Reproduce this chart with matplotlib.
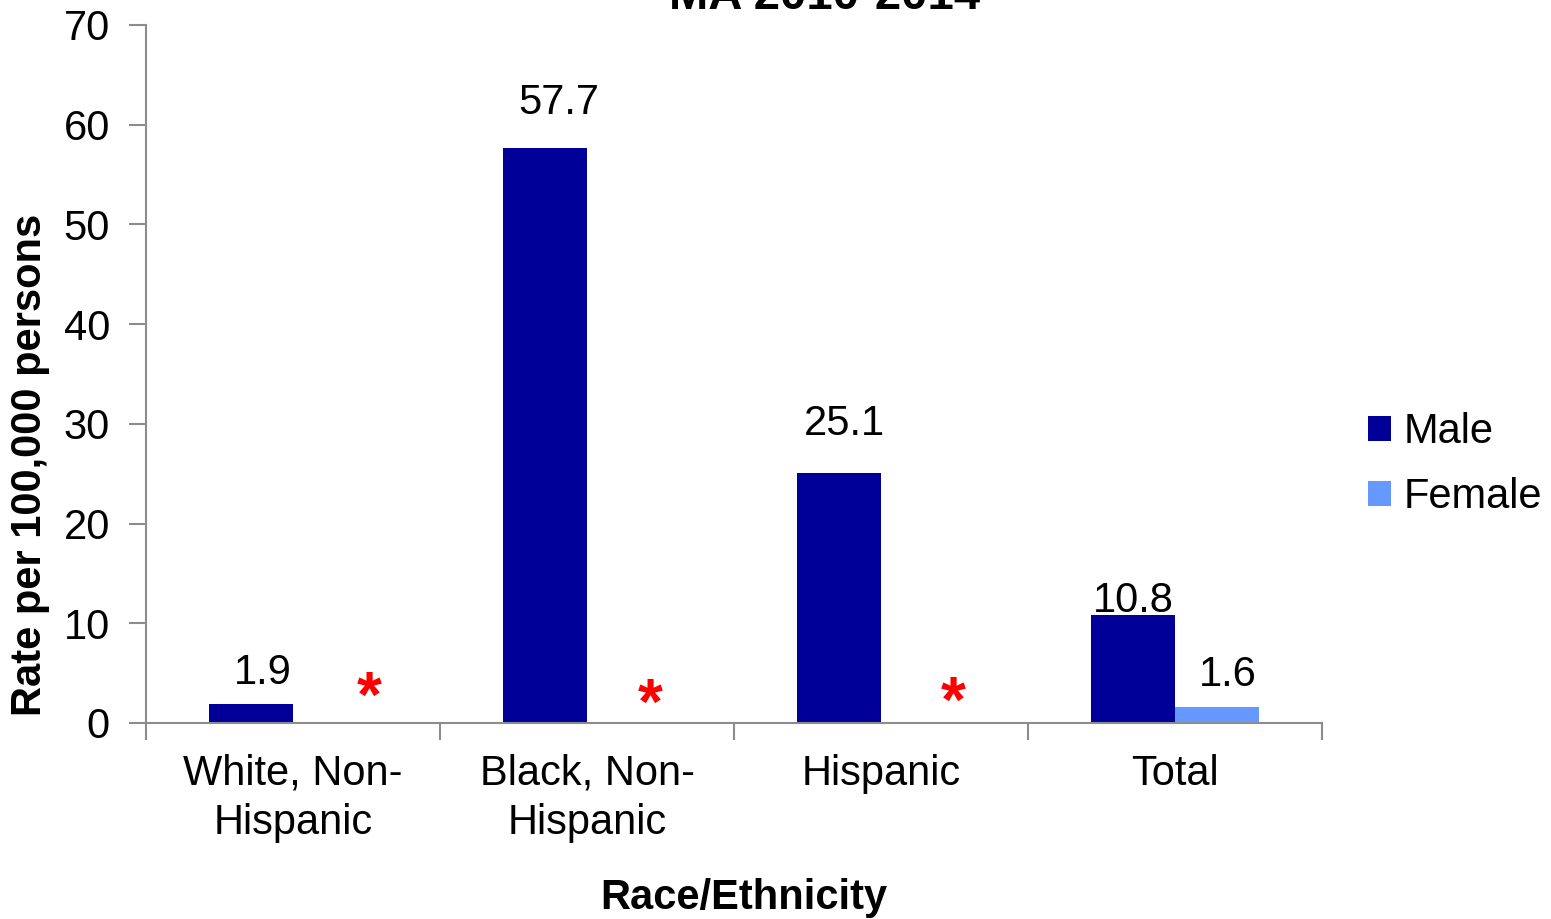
import numpy as np
import matplotlib.pyplot as plt

plt.rcParams['font.family'] = ['Liberation Sans', 'DejaVu Sans']

# data
categories = ['White, Non-\nHispanic', 'Black, Non-\nHispanic', 'Hispanic', 'Total']
male = [1.9, 57.7, 25.1, 10.8]
female = [np.nan, np.nan, np.nan, 1.6]   # suppressed values shown as *
suppressed = [True, True, True, False]

male_color = '#000099'
female_color = '#6699FF'
axis_gray = '#8c8c8c'

fig = plt.figure(figsize=(15.51, 9.19), dpi=100)
ax = fig.add_axes([146 / 1551, 1 - 723 / 919, (1322 - 146) / 1551, (723 - 25) / 919])

x = np.arange(len(categories))
w = 0.286
ax.bar(x - w / 2, male, width=w, color=male_color, label='Male')
ax.bar(x + w / 2, np.nan_to_num(female), width=w, color=female_color, label='Female')

# value labels (nudged a bit like the original)
male_nudge = [(8.6, 22), (10, 32), (4.3, 35), (0, 10)]
for xi, v, (dx, dy) in zip(x, male, male_nudge):
    ax.annotate(f'{v:.1f}', (xi - w / 2, v), xytext=(dx, dy), textcoords='offset points',
                ha='center', va='center', fontsize=30)
for xi, v, sup in zip(x, female, suppressed):
    if not sup:
        ax.annotate(f'{v:.1f}', (xi + w / 2, v), xytext=(8, 23), textcoords='offset points',
                    ha='center', va='center', fontsize=30)

# red asterisks where the female rate is suppressed
star_pos = [(0.259, 0.6), (0.214, -0.1), (0.245, 0.1)]
for xi, sup, (dx, y) in zip(x, suppressed, star_pos):
    if sup:
        ax.text(xi + dx, y, '*', color='red', fontsize=46, fontweight='bold',
                ha='center', va='baseline')

ax.set_xlim(-0.5, len(categories) - 0.5)
ax.set_ylim(0, 70)
ax.set_yticks(range(0, 71, 10))
ax.set_xticks(x)
ax.set_xticklabels(categories, fontsize=30, linespacing=1.3)
ax.set_xticks(np.arange(-0.5, len(categories)), minor=True)
ax.tick_params(axis='x', which='major', length=0, pad=22)
ax.tick_params(axis='x', which='minor', length=12, width=1.5, color=axis_gray, direction='out')
ax.tick_params(axis='y', length=12, width=1.5, color=axis_gray, labelsize=30, pad=14)

for s in ['top', 'right']:
    ax.spines[s].set_visible(False)
for s in ['left', 'bottom']:
    ax.spines[s].set_color(axis_gray)
    ax.spines[s].set_linewidth(1.5)

fig.text(30 / 1551, 1 - 465 / 919, 'Rate per 100,000 persons', rotation=90,
         fontsize=30, fontweight='bold', ha='center', va='center')
fig.text(744 / 1551, 1 - 898 / 919, 'Race/Ethnicity', fontsize=30,
         fontweight='bold', ha='center', va='center')
fig.text(825 / 1551, 1 - 9 / 919, 'MA 2010-2014', fontsize=34,
         fontweight='bold', ha='center', va='baseline')

ax.legend(loc='center left', bbox_to_anchor=(1.007, 0.37), frameon=False, fontsize=30,
          handlelength=0.55, handleheight=0.55, handletextpad=0.3, labelspacing=0.6)

fig.savefig('out.png', dpi=100)
